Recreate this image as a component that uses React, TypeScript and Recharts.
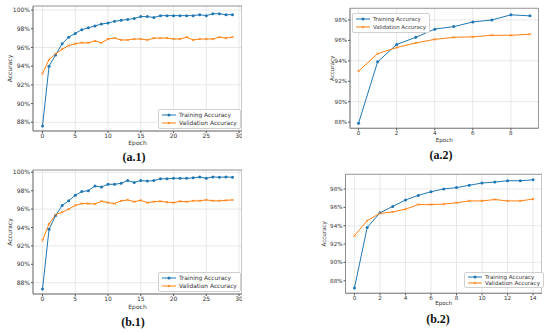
import React from 'react';
import { LineChart, Line, XAxis, YAxis, CartesianGrid, Legend, ReferenceArea, Label } from 'recharts';

// ---- data (accuracy in %) ----
const trainA1 = [87.6, 94.0, 95.2, 96.4, 97.1, 97.5, 97.9, 98.1, 98.3, 98.5, 98.6, 98.8, 98.9, 99.0, 99.1, 99.3, 99.3, 99.2, 99.4, 99.4, 99.4, 99.4, 99.4, 99.4, 99.5, 99.4, 99.6, 99.6, 99.5, 99.5];
const valA1 = [93.2, 94.7, 95.3, 95.8, 96.2, 96.4, 96.5, 96.5, 96.7, 96.5, 96.9, 97.0, 96.8, 96.8, 96.9, 96.9, 96.8, 97.0, 97.0, 97.0, 96.9, 96.9, 97.1, 96.8, 96.9, 96.9, 96.9, 97.1, 97.0, 97.1];

const trainA2 = [87.9, 93.9, 95.6, 96.3, 97.1, 97.35, 97.8, 98.0, 98.5, 98.4];
const valA2 = [93.0, 94.7, 95.3, 95.75, 96.1, 96.3, 96.35, 96.5, 96.5, 96.6];

const trainB1 = [87.3, 93.8, 95.3, 96.4, 96.9, 97.5, 97.9, 98.0, 98.5, 98.4, 98.7, 98.7, 98.8, 99.1, 98.9, 99.1, 99.05, 99.1, 99.3, 99.3, 99.35, 99.35, 99.35, 99.4, 99.5, 99.35, 99.5, 99.45, 99.5, 99.45];
const valB1 = [92.6, 94.4, 95.4, 95.65, 96.0, 96.4, 96.6, 96.6, 96.55, 96.85, 96.7, 96.6, 96.9, 97.0, 96.8, 96.95, 96.7, 96.8, 96.85, 96.75, 96.7, 96.85, 96.8, 96.9, 96.9, 97.0, 96.9, 96.9, 96.95, 97.0];

const trainB2 = [87.2, 93.8, 95.4, 96.1, 96.8, 97.3, 97.7, 98.0, 98.15, 98.4, 98.65, 98.75, 98.9, 98.9, 99.0];
const valB2 = [92.9, 94.55, 95.35, 95.5, 95.8, 96.3, 96.3, 96.35, 96.5, 96.7, 96.7, 96.85, 96.7, 96.7, 96.9];

const ticks30 = [0, 5, 10, 15, 20, 25, 30];
const ticks10 = [0, 2, 4, 6, 8];
const ticks15 = [0, 2, 4, 6, 8, 10, 12, 14];
const yTicks100 = [88, 90, 92, 94, 96, 98, 100];
const yTicks98 = [88, 90, 92, 94, 96, 98];

const TRAIN = '#1f77b4';
const VAL = '#ff7f0e';
const TXT = '#333333';
const FONT = '"DejaVu Sans", sans-serif';

const build = (tr: number[], va: number[]) => tr.map((v, i) => ({ epoch: i, train: v, val: va[i] }));

const TrainDot = (p: any) => <circle key={`t${p.index}`} cx={p.cx} cy={p.cy} r={1.5} fill={TRAIN} />;
const ValDot = (p: any) => (
  <path key={`v${p.index}`} d={`M${p.cx - 1.1},${p.cy - 1.1}L${p.cx + 1.1},${p.cy + 1.1}M${p.cx - 1.1},${p.cy + 1.1}L${p.cx + 1.1},${p.cy - 1.1}`} stroke={VAL} strokeWidth={0.8} />
);

const LegendBox = ({ fs, gap }: { fs: number; gap: number }) => {
  const item = (color: string, label: string, train: boolean) => (
    <div style={{ display: 'flex', alignItems: 'center', height: gap, whiteSpace: 'nowrap' }}>
      <svg width={14} height={gap} style={{ marginRight: 3 }}>
        <line x1={0} x2={14} y1={gap / 2} y2={gap / 2} stroke={color} strokeWidth={1} />
        {train ? <circle cx={7} cy={gap / 2} r={1.5} fill={color} /> : <path d={`M5.9,${gap / 2 - 1.1}L8.1,${gap / 2 + 1.1}M5.9,${gap / 2 + 1.1}L8.1,${gap / 2 - 1.1}`} stroke={color} strokeWidth={0.8} />}
      </svg>
      <span style={{ fontSize: fs, color: TXT, fontFamily: FONT }}>{label}</span>
    </div>
  );
  return (
    <div style={{ border: '1px solid #d0d0d0', borderRadius: 2, background: '#fff', padding: '1px 3px' }}>
      {item(TRAIN, 'Training Accuracy', true)}
      {item(VAL, 'Validation Accuracy', false)}
    </div>
  );
};

type PanelProps = {
  data: { epoch: number; train: number; val: number }[];
  left: number; top: number; width: number; height: number;
  marginTop: number; yAxisWidth: number;
  xDomain: [number, number]; xTicks: number[];
  yDomain: [number, number]; yTicks: number[];
  yLabelOffset: number; xLabelOffset: number;
  legendLeft: number; legendTop: number; legendFs: number; legendGap: number;
  fs: number;
};

const Panel = (p: PanelProps) => (
  <div style={{ position: 'absolute', left: p.left, top: p.top }}>
    <LineChart width={p.width} height={p.height} data={p.data} margin={{ top: p.marginTop, right: 0, bottom: 0, left: 0 }}>
      <CartesianGrid stroke="#e2e2e2" strokeWidth={0.8} />
      <XAxis
        dataKey="epoch" type="number" domain={p.xDomain} ticks={p.xTicks} allowDataOverflow
        height={20} tickSize={2} tickMargin={1} axisLine={{ stroke: '#888', strokeWidth: 0.8 }} tickLine={{ stroke: '#555' }}
        tick={{ fontSize: p.fs, fill: TXT, fontFamily: FONT }}
      >
        <Label value="Epoch" position="insideBottom" offset={p.xLabelOffset} fill={TXT} stroke="none" fontSize={p.fs} fontFamily={FONT} style={{ fill: TXT }} />
      </XAxis>
      <YAxis
        type="number" domain={p.yDomain} ticks={p.yTicks} allowDataOverflow width={p.yAxisWidth}
        tickSize={2} tickMargin={1} axisLine={{ stroke: '#888', strokeWidth: 0.8 }} tickLine={{ stroke: '#555' }}
        tickFormatter={(v: number) => `${v}%`}
        tick={{ fontSize: p.fs, fill: TXT, fontFamily: FONT }}
      >
        <Label value="Accuracy" angle={-90} position="insideLeft" offset={p.yLabelOffset} fill={TXT} stroke="none" fontSize={p.fs} fontFamily={FONT} style={{ textAnchor: 'middle', fill: TXT }} />
      </YAxis>
      <ReferenceArea x1={p.xDomain[0]} x2={p.xDomain[1]} y1={p.yDomain[0]} y2={p.yDomain[1]} fill="none" stroke="#888" strokeWidth={0.8} ifOverflow="visible" />
      <Legend
        layout="vertical" align="center" verticalAlign="middle"
        wrapperStyle={{ left: p.legendLeft, top: p.legendTop, width: 'auto', height: 'auto' }}
        content={() => <LegendBox fs={p.legendFs} gap={p.legendGap} />}
      />
      <Line type="linear" dataKey="train" stroke={TRAIN} strokeWidth={1} dot={TrainDot} activeDot={false} isAnimationActive={false} />
      <Line type="linear" dataKey="val" stroke={VAL} strokeWidth={1} dot={ValDot} activeDot={false} isAnimationActive={false} />
    </LineChart>
  </div>
);

const Caption = ({ text, x, y }: { text: string; x: number; y: number }) => (
  <div style={{ position: 'absolute', left: x, top: y, transform: 'translate(-50%, -50%)', fontFamily: '"Liberation Serif", "Times New Roman", serif', fontWeight: 'bold', fontSize: 12, color: '#111', whiteSpace: 'nowrap' }}>
    {text}
  </div>
);

export default function App() {
  return (
    <div style={{ position: 'absolute', left: 0, top: 0, width: 550, height: 333, background: '#fff', overflow: 'hidden' }}>
      <Panel data={build(trainA1, valA1)} left={0} top={0} width={242} height={151} marginTop={6} yAxisWidth={33}
        xDomain={[-1.45, 30.45]} xTicks={ticks30} yDomain={[87.07, 100.43]} yTicks={yTicks100}
        yLabelOffset={9.5} xLabelOffset={6} legendLeft={158} legendTop={109} legendFs={5.9} legendGap={8} fs={6} />
      <Panel data={build(trainA2, valA2)} left={300} top={0} width={238.5} height={148.3} marginTop={8.3} yAxisWidth={50}
        xDomain={[-0.45, 9.45]} xTicks={ticks10} yDomain={[87.4, 99.14]} yTicks={yTicks98}
        yLabelOffset={31.7} xLabelOffset={6.3} legendLeft={52} legendTop={12.7} legendFs={5.4} legendGap={8} fs={5.6} />
      <Panel data={build(trainB1, valB1)} left={0} top={164} width={242} height={150} marginTop={6} yAxisWidth={33}
        xDomain={[-1.45, 30.45]} xTicks={ticks30} yDomain={[86.77, 100.25]} yTicks={yTicks100}
        yLabelOffset={9.5} xLabelOffset={5.2} legendLeft={158} legendTop={108.3} legendFs={5.9} legendGap={8} fs={6} />
      <Panel data={build(trainB2, valB2)} left={300} top={164} width={242} height={149.3} marginTop={10.3} yAxisWidth={45.5}
        xDomain={[-0.7, 14.7]} xTicks={ticks15} yDomain={[86.63, 99.6]} yTicks={yTicks98}
        yLabelOffset={24} xLabelOffset={8.3} legendLeft={164} legendTop={108} legendFs={5.6} legendGap={6} fs={5.6} />
      <Caption text="(a.1)" x={134} y={157} />
      <Caption text="(a.2)" x={441} y={155} />
      <Caption text="(b.1)" x={133} y={321.7} />
      <Caption text="(b.2)" x={438} y={319} />
    </div>
  );
}
